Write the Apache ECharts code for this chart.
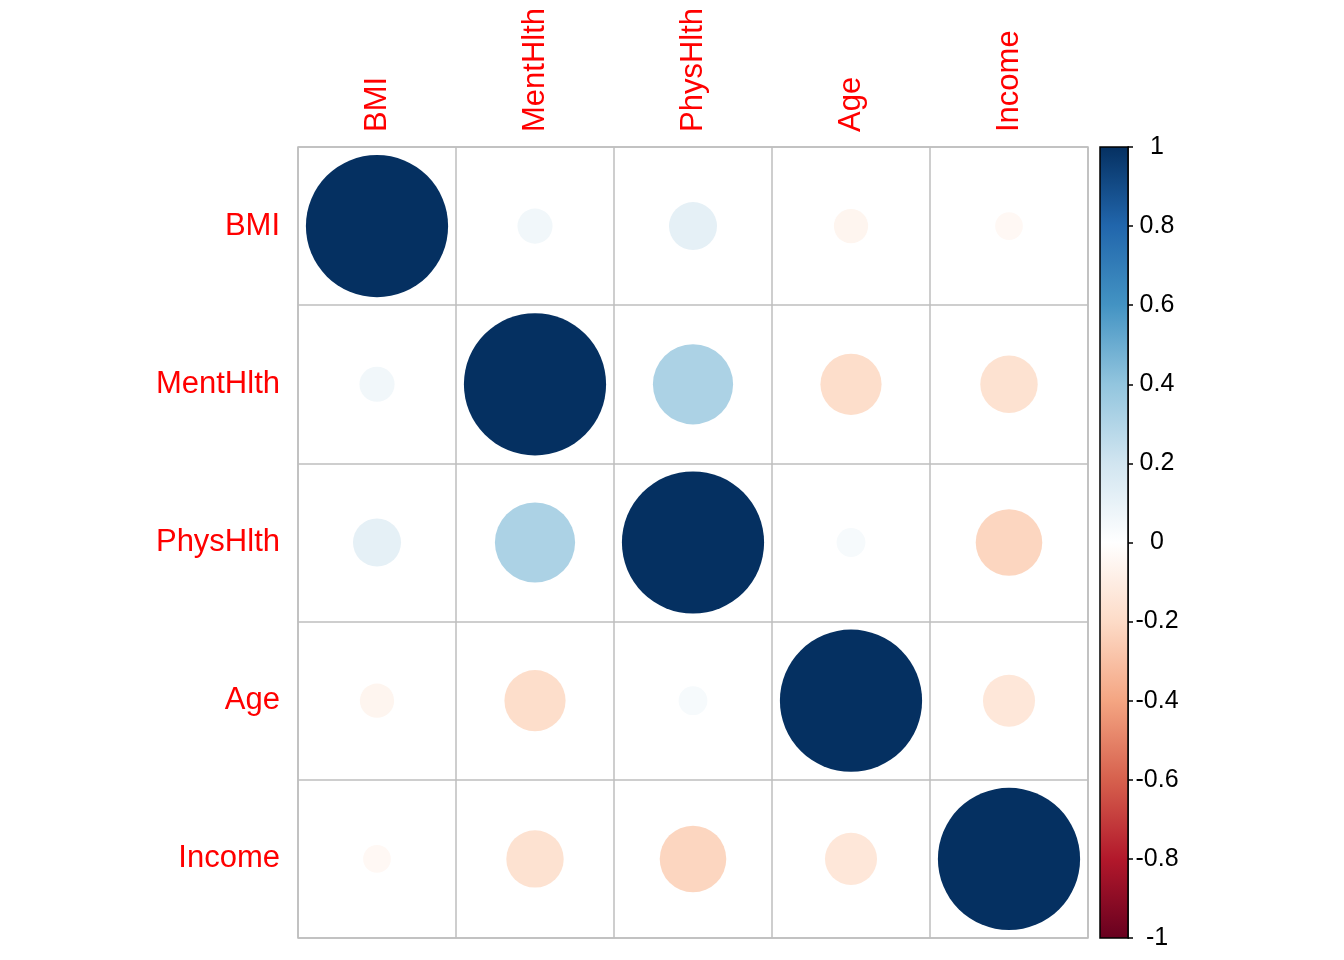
<!DOCTYPE html>
<html>
<head>
<meta charset="utf-8">
<script src="https://cdn.jsdelivr.net/npm/echarts@6/dist/echarts.min.js"></script>
<style>
  html, body { margin: 0; padding: 0; background: #fff; }
  #main { width: 1344px; height: 960px; }
</style>
</head>
<body>
<div id="main"></div>
<script>
// variables of the correlation matrix
var vars = ['BMI', 'MentHlth', 'PhysHlth', 'Age', 'Income'];

// correlation values, row by row (symmetric)
var rowBMI      = [1.000, 0.061, 0.114, -0.058, -0.038];
var rowMentHlth = [0.061, 1.000, 0.318, -0.185, -0.163];
var rowPhysHlth = [0.114, 0.318, 1.000, 0.041, -0.219];
var rowAge      = [-0.058, -0.185, 0.041, 1.000, -0.134];
var rowIncome   = [-0.038, -0.163, -0.219, -0.134, 1.000];
var corRows = [rowBMI, rowMentHlth, rowPhysHlth, rowAge, rowIncome];

// colour bar ticks
var barMin = -1, barMax = 1, barStep = 0.2;

// RdBu palette (corrplot COL2), from -1 to 1
var palette = ['#67001F', '#B2182B', '#D6604D', '#F4A582', '#FDDBC7', '#FFFFFF',
               '#D1E5F0', '#92C5DE', '#4393C3', '#2166AC', '#053061'];

var points = [];
for (var i = 0; i < corRows.length; i++) {
  for (var j = 0; j < corRows[i].length; j++) {
    points.push([j, i, corRows[i][j]]);
  }
}

var cellSize = 790 / vars.length;
var fontName = 'Liberation Sans, Arial, sans-serif';

var myChart = echarts.init(document.getElementById('main'));

var stops = [];
for (var k = 0; k < palette.length; k++) {
  // gradient top is +1, so run the palette backwards
  stops.push({ offset: k / (palette.length - 1), color: palette[palette.length - 1 - k] });
}

var option = {
  backgroundColor: '#fff',
  animation: false,
  grid: [
    { left: 298, top: 147, width: 790, height: 791, show: true,
      borderColor: '#BEBEBE', borderWidth: 1.5, backgroundColor: 'transparent' },
    { left: 1100, top: 147, width: 28, height: 791 }
  ],
  xAxis: [
    {
      gridIndex: 0, type: 'category', data: vars, position: 'top',
      axisLine: { show: false }, axisTick: { show: false },
      axisLabel: { rotate: -90, margin: 15, color: '#FF0000', fontSize: 31, fontFamily: fontName, interval: 0 },
      splitLine: { show: true, interval: 0, lineStyle: { color: '#BEBEBE', width: 1.5 } }
    },
    { gridIndex: 1, type: 'category', data: [''], show: false }
  ],
  yAxis: [
    {
      gridIndex: 0, type: 'category', data: vars, inverse: true,
      axisLine: { show: false }, axisTick: { show: false },
      axisLabel: { margin: 18, color: '#FF0000', fontSize: 31, fontFamily: fontName, interval: 0 },
      splitLine: { show: true, interval: 0, lineStyle: { color: '#BEBEBE', width: 1.5 } }
    },
    {
      gridIndex: 1, type: 'value', position: 'right',
      min: barMin, max: barMax, interval: barStep,
      axisLine: { show: true, lineStyle: { color: '#000', width: 1.5 } },
      axisTick: { show: true, inside: false, length: 5, lineStyle: { color: '#000', width: 1.5 } },
      axisLabel: { margin: 29, align: 'center', color: '#000', fontSize: 25, fontFamily: fontName },
      splitLine: { show: false }
    }
  ],
  visualMap: {
    show: false, type: 'continuous', min: -1, max: 1, dimension: 2,
    seriesIndex: 0, inRange: { color: palette }
  },
  series: [
    {
      type: 'scatter', xAxisIndex: 0, yAxisIndex: 0,
      data: points,
      symbol: 'circle',
      symbolSize: function (d) { return cellSize * 0.9 * Math.sqrt(Math.abs(d[2])); },
      itemStyle: { opacity: 1 }
    },
    {
      type: 'custom', xAxisIndex: 1, yAxisIndex: 1,
      data: [[0, barMin, barMax]],
      renderItem: function (params, api) {
        var p0 = api.coord([api.value(0), api.value(2)]);
        var p1 = api.coord([api.value(0), api.value(1)]);
        var w = api.size([1, 0])[0];
        return {
          type: 'rect',
          shape: { x: p0[0] - w / 2, y: p0[1], width: w, height: p1[1] - p0[1] },
          style: {
            fill: { type: 'linear', x: 0, y: 0, x2: 0, y2: 1, colorStops: stops },
            stroke: '#000', lineWidth: 1.5
          }
        };
      }
    }
  ]
};

myChart.setOption(option);
</script>
</body>
</html>
